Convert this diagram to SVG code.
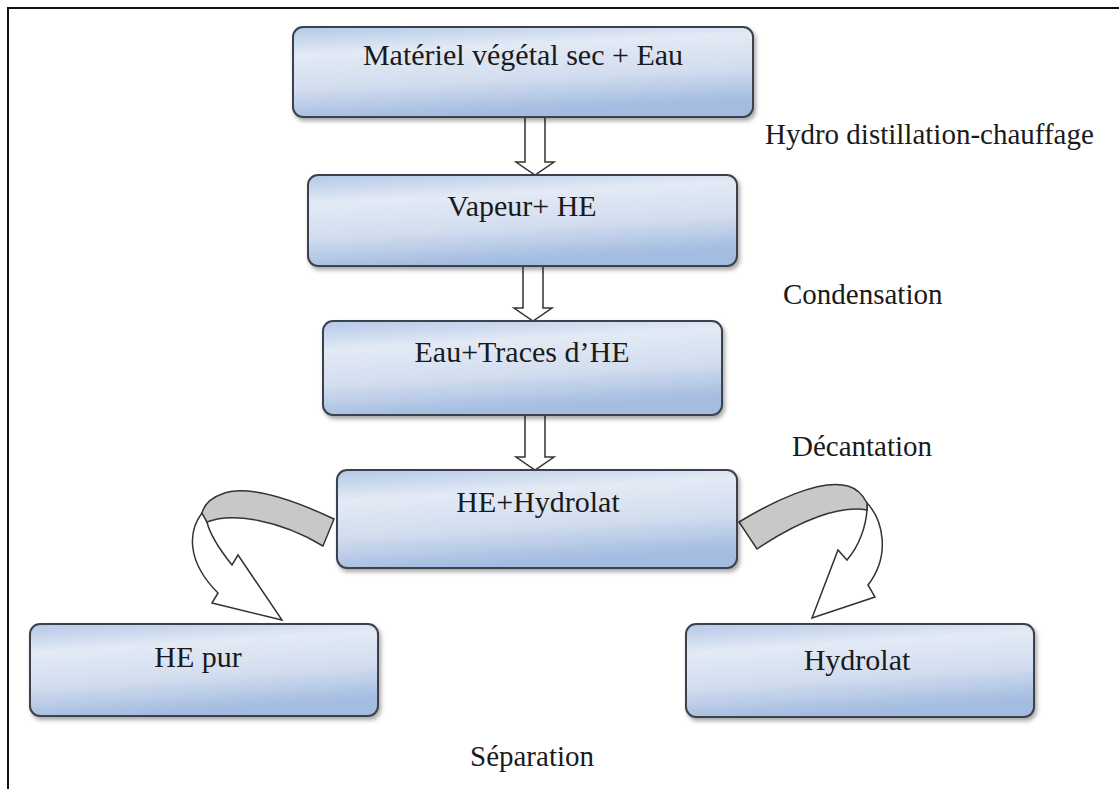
<svg xmlns="http://www.w3.org/2000/svg" width="1119" height="789" viewBox="0 0 1119 789">
<defs>
<linearGradient id="boxGrad" x1="0" y1="0" x2="0.25" y2="1">
<stop offset="0" stop-color="#b3c8e7"/>
<stop offset="0.3" stop-color="#e3eaf5"/>
<stop offset="0.65" stop-color="#d2ddef"/>
<stop offset="1" stop-color="#a3bce0"/>
</linearGradient>
<filter id="shadow" x="-5%" y="-10%" width="112%" height="130%">
<feDropShadow dx="2" dy="3" stdDeviation="2" flood-color="#000" flood-opacity="0.35"/>
</filter>
</defs>
<style>
.box{fill:url(#boxGrad);stroke:#3a434e;stroke-width:2;filter:url(#shadow)}
.txt{font-family:"Liberation Serif","Times New Roman",serif;font-size:30px;fill:#1a1a1a}
.lbl{font-family:"Liberation Serif","Times New Roman",serif;font-size:29px;fill:#1a1a1a}
.mid{text-anchor:middle}
.blk{fill:#fff;stroke:#333;stroke-width:1.5;stroke-linejoin:miter}
.band{fill:#c8c8c8;stroke:#333;stroke-width:1.5}
.frame{stroke:#111;stroke-width:2;fill:none}
</style>
<rect width="1119" height="789" fill="#fff"/>
<g id="frame">
<path class="frame" d="M8,789 V8 H1119"/>
</g>
<g id="connectors">
<polygon class="blk" points="525,116 545,116 545,162 554,162 535,175 516,162 525,162"/>
<polygon class="blk" points="523,265 543,265 543,308 552,308 533,321 514,308 523,308"/>
<polygon class="blk" points="525,414 545,414 545,457 554,457 535,470 516,457 525,457"/>
<path class="blk" d="M202,513 C189,530 185,560 218,593 L212,603 L282,620 L238,555 L232,565 C220,550 210,535 207,522 Z"/>
<path class="band" d="M334,519 C300,503 250,483 222,494 C210,498 204,506 202,513 L207,522 C232,512 280,520 323,546 Z"/>
<path class="blk" d="M867,503 C883,520 891,555 868,585 L875,597 L812,618 L838,550 L847,560 C860,545 866,525 867,510 Z"/>
<path class="band" d="M739,522 C770,503 820,478 848,486 C858,489 864,497 867,503 L867,510 C840,505 800,520 757,549 Z"/>
</g>
<g id="n1">
<rect class="box" x="293" y="27" width="460" height="90" rx="10"/>
<text class="txt mid" x="523" y="65">Matériel végétal sec + Eau</text>
</g>
<g id="n2">
<rect class="box" x="308" y="175" width="429" height="91" rx="10"/>
<text class="txt mid" x="522" y="216">Vapeur+ HE</text>
</g>
<g id="n3">
<rect class="box" x="323" y="321" width="399" height="94" rx="10"/>
<text class="txt mid" x="522" y="362">Eau+Traces d’HE</text>
</g>
<g id="n4">
<rect class="box" x="337" y="470" width="400" height="98" rx="10"/>
<text class="txt mid" x="538" y="512">HE+Hydrolat</text>
</g>
<g id="n5">
<rect class="box" x="30" y="624" width="348" height="92" rx="10"/>
<text class="txt mid" x="198" y="667">HE pur</text>
</g>
<g id="n6">
<rect class="box" x="686" y="624" width="348" height="93" rx="10"/>
<text class="txt mid" x="857" y="670">Hydrolat</text>
</g>
<g id="labels">
<text class="lbl" x="765" y="144">Hydro distillation-chauffage</text>
<text class="lbl" x="783" y="304">Condensation</text>
<text class="lbl" x="792" y="456">Décantation</text>
<text class="lbl" x="470" y="766">Séparation</text>
</g>
</svg>
